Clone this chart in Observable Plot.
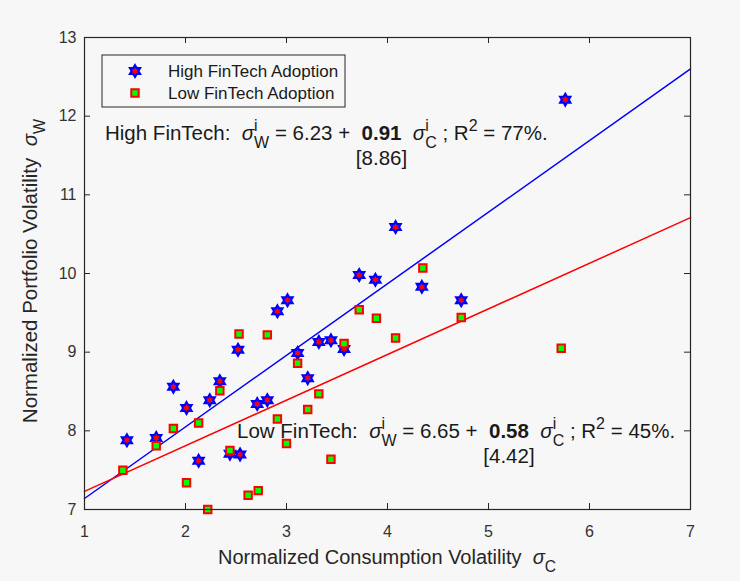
<!DOCTYPE html>
<html><head><meta charset="utf-8">
<script src="https://cdn.jsdelivr.net/npm/d3@7"></script>
<script src="https://cdn.jsdelivr.net/npm/@observablehq/plot@0.6"></script>
<style>
body{margin:0;background:#f7f7f7;}
svg{display:block}
</style></head><body><div id="chart"></div>
<script>
// ---- data ----
const highX = [1.42,1.71,1.88,2.01,2.13,2.24,2.34,2.44,2.54,2.52,2.71,2.81,2.91,3.01,3.11,3.21,3.32,3.44,3.57,3.72,3.88,4.08,4.34,4.73,5.76];
const highY = [7.88,7.91,8.56,8.29,7.62,8.39,8.63,7.71,7.70,9.03,8.34,8.39,9.52,9.66,8.99,8.67,9.13,9.15,9.04,9.98,9.92,10.59,9.83,9.66,12.21];
const lowX  = [1.38,1.71,1.88,2.01,2.13,2.22,2.34,2.44,2.53,2.62,2.72,2.81,2.91,3.00,3.11,3.21,3.32,3.44,3.57,3.72,3.89,4.08,4.35,4.73,5.72];
const lowY  = [7.50,7.81,8.03,7.34,8.10,7.00,8.51,7.75,9.23,7.18,7.24,9.22,8.15,7.84,8.86,8.27,8.47,7.64,9.11,9.54,9.43,9.18,10.07,9.44,9.05];
const xTicks = [1,2,3,4,5,6,7];
const yTicks = [7,8,9,10,11,12,13];
const fitX = [1,7];
const highIntercept = 6.23, highSlope = 0.91, highT = "[8.86]", highR2 = "77%";
const lowIntercept = 6.65, lowSlope = 0.58, lowT = "[4.42]", lowR2 = "45%";
const legendLabels = ["High FinTech Adoption","Low FinTech Adoption"];
const xLabel = "Normalized Consumption Volatility";
const yLabel = "Normalized Portfolio Volatility";

const highFitY = fitX.map(x => highIntercept + highSlope * x);
const lowFitY = fitX.map(x => lowIntercept + lowSlope * x);

// ---- layout ----
const W = 740, H = 581, mL = 84, mR = 50, mT = 37, mB = 72;
const innerW = W - mL - mR, innerH = H - mT - mB;
const FONT = "'Liberation Sans', Arial, Helvetica, sans-serif";
const INK = "#262626";

const hexagram = {draw(ctx, size) {
  const ro = Math.sqrt(size / Math.PI), ri = ro / Math.sqrt(3);
  for (let k = 0; k < 12; k++) {
    const a = -Math.PI / 2 + k * Math.PI / 6, r = k % 2 === 0 ? ro : ri;
    const px = r * Math.cos(a), py = r * Math.sin(a);
    if (k) ctx.lineTo(px, py); else ctx.moveTo(px, py);
  }
  ctx.closePath();
}};

const highStyle = {symbol: hexagram, r: 5.8, fill: "#ff0000", stroke: "#0000ff", strokeWidth: 2.2};
const lowStyle = {symbol: "square", r: 4.2, fill: "#00ff00", stroke: "#ff0000", strokeWidth: 2};

const chart = Plot.plot({
  width: W, height: H, marginLeft: mL, marginRight: mR, marginTop: mT, marginBottom: mB,
  style: {background: "#f7f7f7", fontFamily: FONT, color: INK, overflow: "visible"},
  x: {domain: [1, 7]},
  y: {domain: [7, 13]},
  marks: [
    Plot.axisX(xTicks, {tickSize: 0, tickPadding: 16, fontSize: 16, label: null, fill: "#333", tickFormat: d3.format("d")}),
    Plot.axisY(yTicks, {tickSize: 0, tickPadding: 8, fontSize: 16, label: null, fill: "#333", tickFormat: d3.format("d")}),
    Plot.tickX(xTicks, {x: d => d, insetTop: innerH - 6, stroke: INK}),
    Plot.tickX(xTicks, {x: d => d, insetBottom: innerH - 6, stroke: INK}),
    Plot.tickY(yTicks, {y: d => d, insetRight: innerW - 6, stroke: INK}),
    Plot.tickY(yTicks, {y: d => d, insetLeft: innerW - 6, stroke: INK}),
    Plot.line(fitX, {x: fitX, y: highFitY, stroke: "#0000ff", strokeWidth: 1.5}),
    Plot.line(fitX, {x: fitX, y: lowFitY, stroke: "#ff0000", strokeWidth: 1.5}),
    Plot.dot(highX, {x: highX, y: highY, ...highStyle}),
    Plot.dot(lowX, {x: lowX, y: lowY, ...lowStyle}),
    Plot.frame({stroke: INK, strokeWidth: 1.2})
  ]
});
document.getElementById("chart").append(chart);

const svg = d3.select(chart);
const sx = chart.scale("x"), sy = chart.scale("y");

// rich text helper: lays runs into group g starting at (0,0) baseline; returns {width, pos}
function rich(g, runs, fs) {
  let cx = 0; const pos = {};
  for (const r of runs) {
    let w = 0;
    if (r.sup !== undefined || r.sub !== undefined) {
      if (r.sup) {
        const t = g.append("text").attr("x", cx).attr("y", -fs * 0.42).attr("font-size", fs * 0.78).text(r.sup);
        w = Math.max(w, t.node().getComputedTextLength());
      }
      if (r.sub) {
        const t = g.append("text").attr("x", cx).attr("y", fs * 0.38).attr("font-size", fs * 0.78).text(r.sub);
        w = Math.max(w, t.node().getComputedTextLength());
      }
    } else {
      const t = g.append("text").attr("x", cx).attr("y", 0).attr("font-size", fs)
        .attr("style", "white-space:pre").text(r.t);
      if (r.bold) t.attr("font-weight", "bold");
      if (r.italic) t.attr("font-style", "italic");
      w = t.node().getComputedTextLength();
    }
    if (r.key) pos[r.key] = {x: cx, w};
    cx += w;
  }
  return {width: cx, pos};
}

const annoLayer = svg.insert("g", "g[aria-label='dot']")
  .attr("font-family", FONT).attr("fill", "#1a1a1a").attr("text-anchor", "start");

function equation(label, a, b, r2, tstat, xv, yv) {
  const g = annoLayer.append("g").attr("transform", `translate(${sx.apply(xv)},${sy.apply(yv)})`);
  const fs = 20.5;
  const res = rich(g, [
    {t: label + ":  "}, {t: "σ", italic: true}, {sup: "i", sub: "W"},
    {t: " = " + a.toFixed(2) + " +  "}, {t: b.toFixed(2), bold: true, key: "coef"},
    {t: "  "}, {t: "σ", italic: true}, {sup: "i", sub: "C"},
    {t: " ; R"}, {sup: "2"}, {t: " = " + r2 + "."}
  ], fs);
  const c = res.pos.coef;
  g.append("text").attr("x", c.x + c.w / 2).attr("y", 25).attr("font-size", fs)
    .attr("text-anchor", "middle").text(tstat);
}
equation("High FinTech", highIntercept, highSlope, highR2, highT, 1.208, 11.69);
equation("Low FinTech", lowIntercept, lowSlope, lowR2, lowT, 2.515, 7.903);

// axis labels
const labLayer = svg.append("g").attr("font-family", FONT).attr("fill", INK).attr("text-anchor", "start");
{
  const g = labLayer.append("g");
  const res = rich(g, [{t: xLabel + "  "}, {t: "σ", italic: true}, {sub: "C"}], 20);
  g.attr("transform", `translate(${mL + innerW / 2 - res.width / 2}, 564)`);
}
{
  const g = labLayer.append("g");
  const res = rich(g, [{t: yLabel + "  "}, {t: "σ", italic: true}, {sub: "W"}], 20.5);
  g.attr("transform", `translate(37, ${mT + innerH / 2 - 2 + res.width / 2}) rotate(-90)`);
}

// legend
{
  const lg = svg.append("g").attr("font-family", FONT).attr("text-anchor", "start");
  lg.append("rect").attr("x", 102).attr("y", 55).attr("width", 243).attr("height", 52)
    .attr("fill", "#f7f7f7").attr("stroke", INK).attr("stroke-width", 1);
  const rows = [71, 93];
  const styles = [highStyle, lowStyle];
  const syms = [d3.symbol(hexagram, Math.PI * highStyle.r * highStyle.r), d3.symbol(d3.symbolSquare, Math.PI * lowStyle.r * lowStyle.r)];
  rows.forEach((ry, i) => {
    lg.append("path").attr("d", syms[i]()).attr("transform", `translate(135,${ry})`)
      .attr("fill", styles[i].fill).attr("stroke", styles[i].stroke).attr("stroke-width", styles[i].strokeWidth);
    lg.append("text").attr("x", 168).attr("y", ry + 6).attr("font-size", 17).attr("fill", "#1a1a1a").text(legendLabels[i]);
  });
}
</script></body></html>
